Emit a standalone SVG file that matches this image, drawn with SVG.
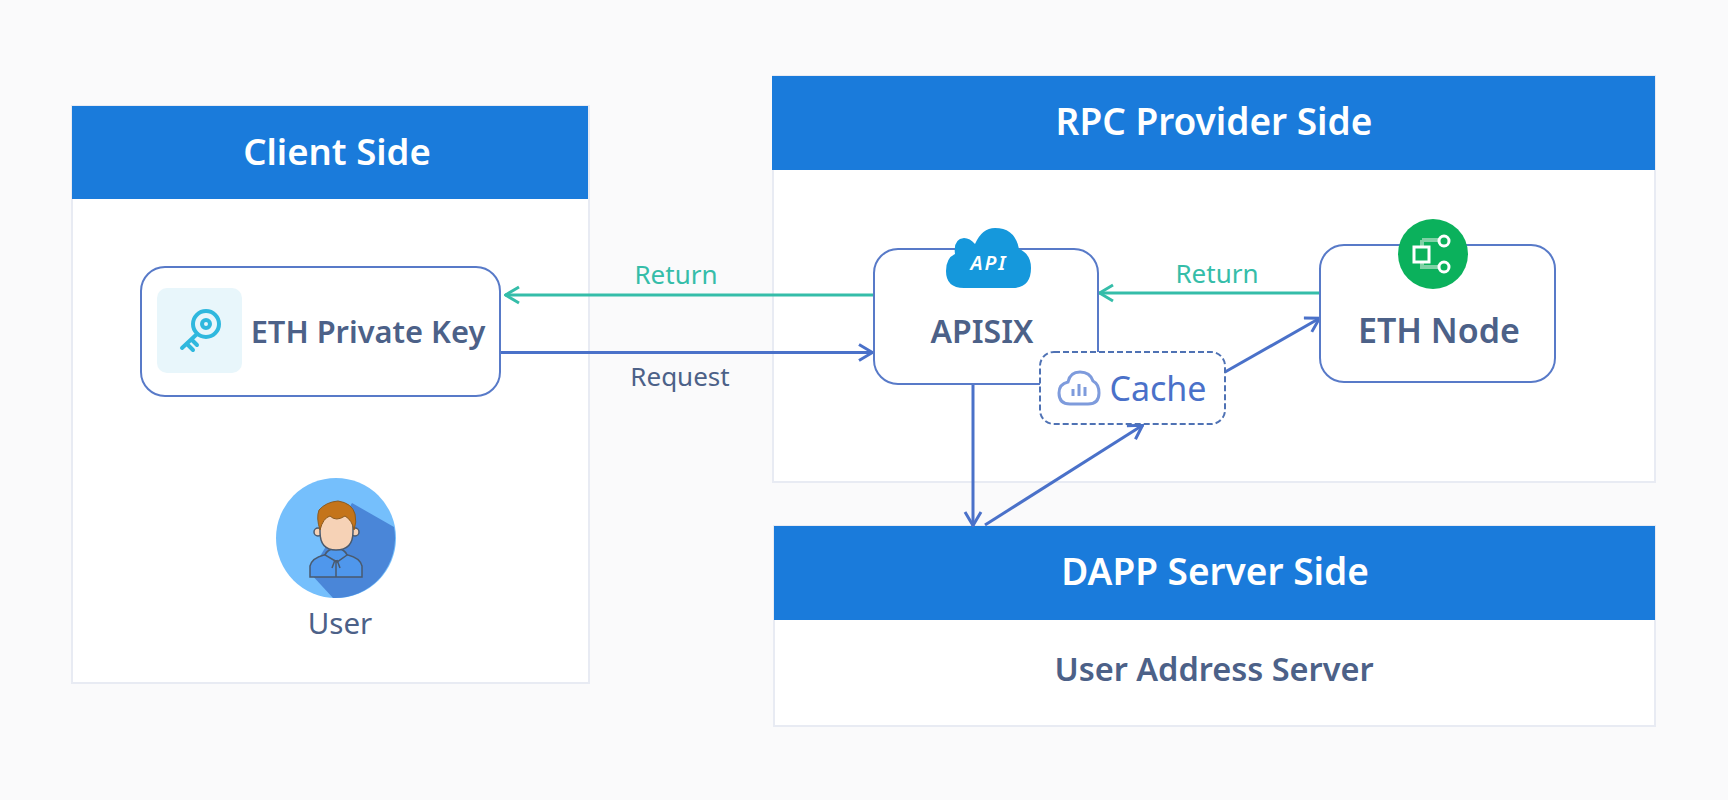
<svg xmlns="http://www.w3.org/2000/svg" width="1728" height="800" viewBox="0 0 1728 800">
<style>
text{font-family:"Noto Sans","Open Sans","Liberation Sans",sans-serif}
.panel{fill:#fff;stroke:#e8ebf3;stroke-width:2}
.head{fill:#1a7bdb}
.ht{fill:#fff;font-size:37px;font-weight:600;text-anchor:middle}
.box{fill:#fff;stroke:#587ac8;stroke-width:2}
.nt{fill:#4c6188;font-size:32px;font-weight:600;text-anchor:middle}
.lb{font-size:26px;text-anchor:middle}
.blue{fill:none;stroke:#4a71c9;stroke-width:3}
.teal{fill:none;stroke:#35bda9;stroke-width:3}
.out{stroke:#4a5a6e;stroke-width:1.500}
</style>
<defs>
<marker id="ab" viewBox="0 0 16 20" refX="15" refY="10" markerWidth="16" markerHeight="20" markerUnits="userSpaceOnUse" orient="auto"><path d="M1 2L14.500 10L1 18" fill="none" stroke="#4a71c9" stroke-width="3"/></marker>
<marker id="at" viewBox="0 0 16 20" refX="15" refY="10" markerWidth="16" markerHeight="20" markerUnits="userSpaceOnUse" orient="auto"><path d="M1 2L14.500 10L1 18" fill="none" stroke="#35bda9" stroke-width="3"/></marker>
</defs>
<rect width="1728" height="800" fill="#fafafb"/>
<g id="client-side">
<rect class="panel" x="72" y="106" width="517" height="577"/>
<rect class="head" x="72" y="106" width="516" height="93"/>
<text class="ht" x="337" y="165" style="font-size:36.500px">Client Side</text>
</g>
<g id="rpc-side">
<rect class="panel" x="773" y="76" width="882" height="406"/>
<rect class="head" x="772" y="76" width="883" height="94"/>
<text class="ht" x="1214" y="135">RPC Provider Side</text>
</g>
<g id="dapp-side">
<rect class="panel" x="774" y="526" width="881" height="200"/>
<rect class="head" x="774" y="526" width="881" height="94"/>
<text class="ht" x="1215" y="585">DAPP Server Side</text>
<text class="nt" x="1214" y="681" style="font-size:32.500px">User Address Server</text>
</g>
<g id="connectors">
<path class="teal" d="M874 295H505" marker-end="url(#at)"/>
<path class="blue" d="M500 352.500H873" marker-end="url(#ab)"/>
<path class="teal" d="M1320 293H1099" marker-end="url(#at)"/>
<path class="blue" d="M1225 372L1320 318" marker-end="url(#ab)"/>
<path class="blue" d="M973 384V526" marker-end="url(#ab)"/>
<path class="blue" d="M985 525L1143 425" marker-end="url(#ab)"/>
<text class="lb" x="676" y="284" fill="#35bda9">Return</text>
<text class="lb" x="680" y="386" fill="#4c6188">Request</text>
<text class="lb" x="1217" y="283" fill="#35bda9">Return</text>
</g>
<g id="eth-private-key">
<rect class="box" x="141" y="267" width="359" height="129" rx="24"/>
<rect x="157" y="288" width="85" height="85" rx="10" fill="#e8f6fb"/>
<g fill="none" stroke="#2fb8de" stroke-width="4" stroke-linecap="round">
<circle cx="206" cy="324" r="13"/>
<circle cx="206" cy="324" r="4"/>
<path d="M197 334L182 348M187 344L193 350M192 340L197 345"/>
</g>
<text class="nt" x="368" y="343" style="font-size:30.800px">ETH Private Key</text>
</g>
<g id="user">
<circle cx="336" cy="538" r="60" fill="#75bffc"/>
<path d="M352 503L394 527A60 60 0 0 1 333 598L310 573Z" fill="#4a86d8"/>
<path class="out" d="M310 577V566Q312 558 324 555L336 551L348 555Q360 558 362 566V577Z" fill="#4f97ec"/>
<path class="out" d="M325 555Q328 548 336 549Q344 548 347 555L337 562Z" fill="#4f97ec"/>
<path class="out" d="M336 560V577M332 568L335 560M340 568L337 560" fill="none"/>
<circle class="out" cx="318" cy="532" r="4" fill="#f6d2b6"/>
<circle class="out" cx="355" cy="532" r="4" fill="#f6d2b6"/>
<path class="out" d="M320 522Q322 512 336 512Q352 512 353 522V532Q353 550 336 550Q320 550 320 532Z" fill="#f6d2b6"/>
<path d="M320 530Q316 518 319 510Q326 502 338 501Q352 503 355 514Q357 522 354 530Q352 520 345 516Q336 522 330 516Q323 518 320 530Z" fill="#c4741a" stroke="#8a5a20" stroke-width="1"/>
<text x="340" y="634" fill="#4c6188" font-size="29.500" text-anchor="middle">User</text>
</g>
<g id="apisix">
<rect class="box" x="874" y="249" width="224" height="135" rx="24"/>
<path d="M964 288Q946 288 946 271Q946 258 955 254Q953 239 964 238Q970 238 975 244Q982 228 995 228Q1015 228 1019 249Q1031 254 1031 268Q1031 288 1012 288Z" fill="#1598dc"/>
<text x="989" y="270" fill="#fff" font-size="20" font-style="italic" font-weight="600" letter-spacing="2" text-anchor="middle">API</text>
<text class="nt" x="982" y="343">APISIX</text>
</g>
<g id="cache">
<rect x="1040" y="352" width="185" height="72" rx="14" fill="#fff" stroke="#4f72b4" stroke-width="2" stroke-dasharray="6 3"/>
<path d="M1070 404Q1059 404 1059 393Q1059 384 1068 382Q1070 372 1080 372Q1090 372 1093 381Q1099 384 1099 393Q1099 404 1088 404Z" fill="none" stroke="#7e9bdc" stroke-width="3"/>
<path d="M1073 389V396M1079 384V396M1085 387V396" stroke="#7e9bdc" stroke-width="3"/>
<text x="1158" y="401" fill="#4a71c9" font-size="34" text-anchor="middle">Cache</text>
</g>
<g id="eth-node">
<rect class="box" x="1320" y="245" width="235" height="137" rx="24"/>
<circle cx="1433" cy="254" r="35" fill="#0bb15c"/>
<path d="M1422 240H1440M1422 240V267H1440" fill="none" stroke="#7fd2a5" stroke-width="4"/>
<rect x="1414" y="247" width="15" height="15" fill="#0bb15c" stroke="#fff" stroke-width="3"/>
<circle cx="1444" cy="241" r="5" fill="#0bb15c" stroke="#fff" stroke-width="3"/>
<circle cx="1444" cy="267" r="5" fill="#0bb15c" stroke="#fff" stroke-width="3"/>
<text class="nt" x="1439" y="343" style="font-size:34px">ETH Node</text>
</g>
</svg>
